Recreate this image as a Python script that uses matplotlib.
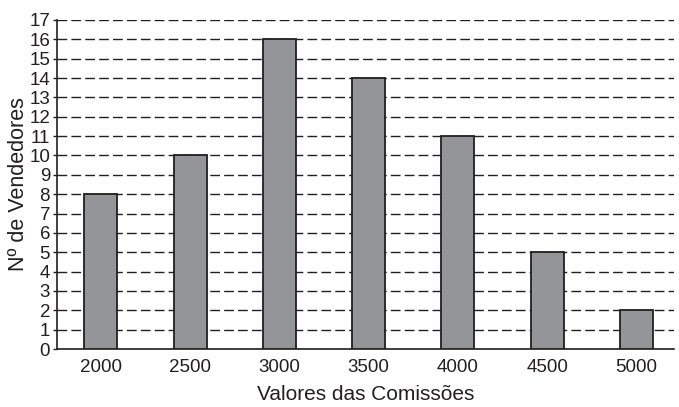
import matplotlib
matplotlib.use("Agg")
import matplotlib.pyplot as plt

categories = ["2000", "2500", "3000", "3500", "4000", "4500", "5000"]
vendedores = [8, 10, 16, 14, 11, 5, 2]
yticks = list(range(0, 18))

plt.rcParams['font.family'] = ['Liberation Sans', 'DejaVu Sans']

fig = plt.figure(figsize=(6.79, 4.07), dpi=100)
ax = fig.add_axes([57/679, 58/407, (674-57)/679, (349-20)/407])

x = list(range(len(categories)))
ax.bar(x, vendedores, width=0.37, color="#939598", edgecolor="#231f20",
       linewidth=1.3, zorder=3)

ax.set_xlim(-0.49, 6.42)
ax.set_ylim(0, 17)
ax.set_yticks(yticks)
ax.set_yticklabels([str(v) for v in yticks], fontsize=13.5)
ax.set_xticks(x)
ax.set_xticklabels(categories, fontsize=13.5)
ax.yaxis.grid(True, linestyle=(0, (7, 3)), color="#231f20", linewidth=1.0, zorder=0)
ax.set_axisbelow(True)

for s in ["top", "right"]:
    ax.spines[s].set_visible(False)
ax.spines["left"].set_color("#231f20")
ax.spines["bottom"].set_color("#231f20")
ax.spines["left"].set_linewidth(1.2)
ax.spines["bottom"].set_linewidth(1.2)
ax.tick_params(axis="y", length=3, width=1, pad=2, colors="#231f20")
ax.tick_params(axis="x", length=0, pad=7, colors="#231f20")

ax.set_xlabel("Valores das Comissões", fontsize=15, color="#231f20", labelpad=7)
ax.set_ylabel("Nº de Vendedores", fontsize=15.5, color="#231f20")
ax.yaxis.set_label_coords(-0.046, 0.5)

fig.savefig("out.png", dpi=100)
